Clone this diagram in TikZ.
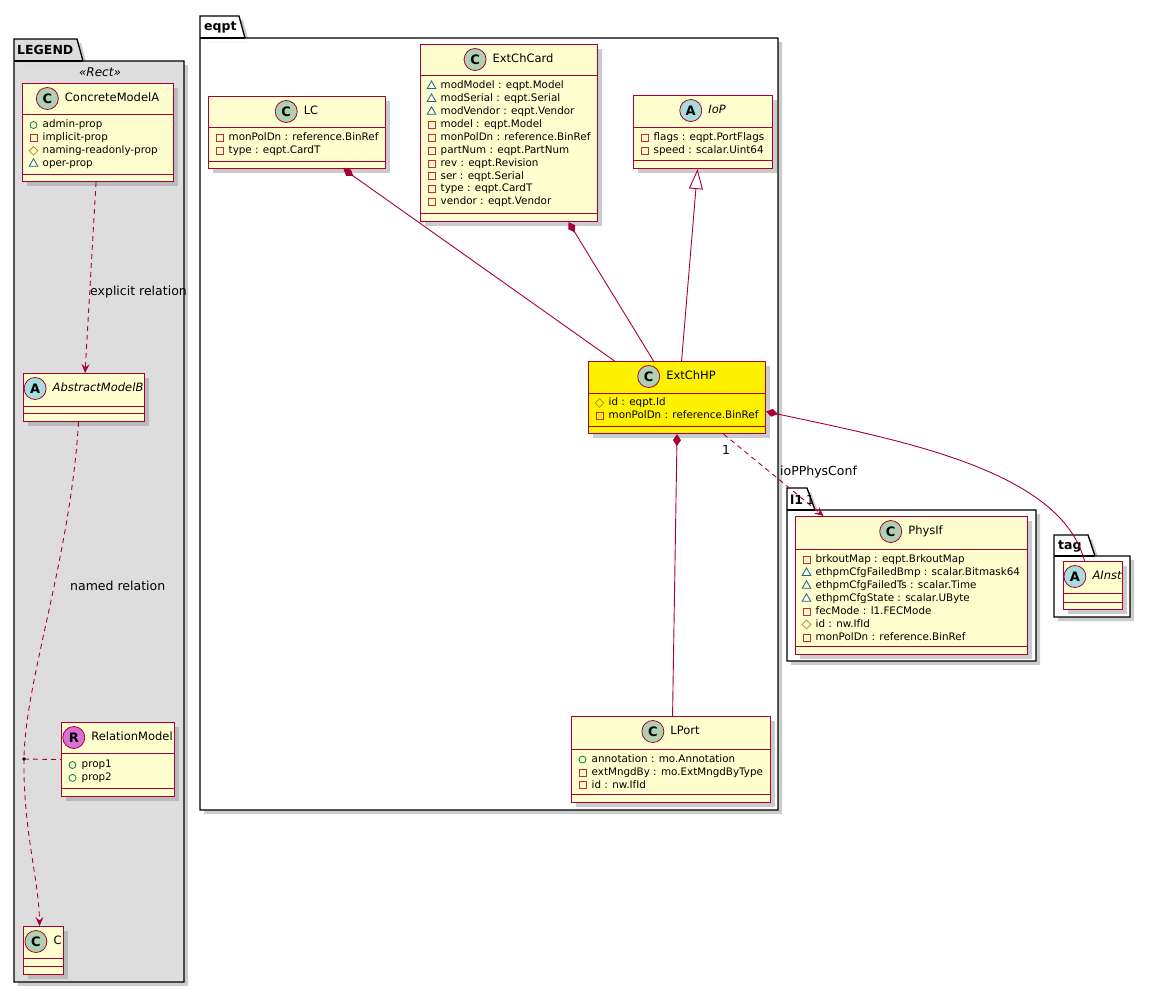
\documentclass[tikz,border=0pt]{standalone}
\usepackage{fontspec}
\setmainfont{DejaVu Sans}
\usetikzlibrary{positioning,shadows,shapes.geometric,arrows.meta}

\definecolor{clsfill}{HTML}{FEFECE}
\definecolor{clsline}{HTML}{A80036}
\definecolor{spotC}{HTML}{ADD1B2}
\definecolor{spotA}{HTML}{A9DCDF}
\definecolor{spotR}{HTML}{DA70D6}
\definecolor{legendbg}{HTML}{DDDDDD}
\definecolor{vpub}{HTML}{038048}
\definecolor{vpriv}{HTML}{C82930}
\definecolor{vprot}{HTML}{B38D22}
\definecolor{vpack}{HTML}{1963A0}

\tikzset{
	shade/.style={drop shadow={shadow xshift=4pt,shadow yshift=-4pt,fill=black!40,opacity=.5}},
	cls/.style={draw=clsline,line width=1.1pt,rectangle,inner sep=0pt,shade},
	sepline/.style={draw=clsline,line width=1pt},
	clsname/.style={inner sep=0pt,text height=8.5pt,text depth=2.5pt,font=\fontsize{11.5}{13}\selectfont},
	spot/.style={circle,draw=clsline,line width=.8pt,minimum size=22pt,inner sep=0pt,font=\fontsize{13}{13}\selectfont\bfseries},
	attr/.style={inner sep=0pt,anchor=west,text height=7.8pt,text depth=2.3pt,font=\fontsize{10.35}{12}\selectfont},
	pub/.style={circle,draw=vpub,line width=.8pt,minimum size=7pt,inner sep=0pt},
	priv/.style={rectangle,draw=vpriv,line width=.8pt,minimum size=7pt,inner sep=0pt},
	prot/.style={diamond,draw=vprot,line width=.8pt,minimum size=9pt,inner sep=0pt},
	pack/.style={regular polygon,regular polygon sides=3,draw=vpack,line width=.8pt,minimum size=10pt,inner sep=0pt},
	pkg/.style={draw=black,line width=1.3pt,shade},
	pkgname/.style={inner sep=0pt,anchor=west,font=\fontsize{12.5}{13}\selectfont\bfseries},
	lbl/.style={inner sep=0pt,font=\fontsize{12.5}{14}\selectfont},
	rel/.style={draw=clsline,line width=.9pt},
	dep/.style={rel,dash pattern=on 5pt off 4pt},
	tipd/.style={{Diamond[length=12pt,width=8pt]}-},
	tipv/.style={-{Stealth[length=9pt,width=8pt,inset=3.5pt]}}
}

% box: name, left, top, right, header line, attribute line, bottom, fill
\newcommand\umlclass[8]{%
	\node[cls,fill=#8,anchor=north west,minimum width={(#4-#2)*1pt},minimum height={(#7-#3)*1pt}] (#1) at (#2,#3) {};
	\draw[sepline] (#2,#5) -- (#4,#5) (#2,#6) -- (#4,#6);
}
% header: name, letter, spot colour, text
\newcommand\umlhead[4]{%
	\node[clsname] (#1-n) at ([xshift=14pt,yshift=-15.5pt]#1.north) {#4};
	\node[spot,fill=#3,left=6pt of #1-n] (#1-s) {#2};
}
% attributes: name, left, first line, list of visibility/text
\newcommand\umlattrs[4]{%
	\foreach \v/\t [count=\i] in {#4}{
		\node[\v] (#1-v\i) at ({#2+11.5},{#3+(\i-1)*12.9}) {};
		\node[attr] (#1-a\i) at ({#2+20.5},{#3+(\i-1)*12.9}) {\t};
	}
}

\begin{document}
\begin{tikzpicture}[x=1pt,y=-1pt]
	\useasboundingbox (0,0) rectangle (1151,993);
	% packages
	\draw[pkg,fill=legendbg](14,61)--(14,39)--(77,39)--(83,61)--(184,61)--(184,982)--(14,982)--cycle;
	\draw[pkg](14,61)--(83,61);
	\node[pkgname] (legend-l) at (17,50) {LEGEND};
	\node[lbl,font=\fontsize{12}{14}\selectfont\itshape] (legend-st) at (100,72) {«Rect»};
	\draw[pkg,fill=white](200,38)--(200,16)--(239,16)--(245,38)--(778,38)--(778,810)--(200,810)--cycle;
	\draw[pkg](200,38)--(245,38);
	\node[pkgname] (eqpt-l) at (204,27) {eqpt};
	\draw[pkg,fill=white](787,510)--(787,488)--(807,488)--(815,510)--(1036,510)--(1036,661)--(787,661)--cycle;
	\draw[pkg](787,510)--(815,510);
	\node[pkgname] (l1-l) at (790,500) {l1};
	\draw[pkg,fill=white](1054,556)--(1054,535)--(1088,535)--(1095,556)--(1130,556)--(1130,617)--(1054,617)--cycle;
	\draw[pkg](1054,556)--(1095,556);
	\node[pkgname] (tag-l) at (1058,546) {tag};
	% legend
	\umlclass{cmA}{22}{83}{173}{114}{174}{181}{clsfill}
	\umlhead{cmA}{C}{spotC}{ConcreteModelA}
	\umlattrs{cmA}{22}{125}{pub/admin-prop,priv/implicit-prop,prot/naming-readonly-prop,pack/oper-prop}
	\umlclass{amB}{23}{373}{144}{406}{413}{421}{clsfill}
	\umlhead{amB}{A}{spotA}{\itshape AbstractModelB}
	\umlclass{relM}{61}{722}{174}{753}{788}{796}{clsfill}
	\umlhead{relM}{R}{spotR}{RelationModel}
	\umlattrs{relM}{61}{765}{pub/prop1,pub/prop2}
	\umlclass{cC}{23}{926}{63}{958}{966}{974}{clsfill}
	\umlhead{cC}{C}{spotC}{C}
	% eqpt
	\umlclass{LC}{208}{96}{385}{127}{161}{168}{clsfill}
	\umlhead{LC}{C}{spotC}{LC}
	\umlattrs{LC}{208}{138}{priv/monPolDn : reference.BinRef,priv/type : eqpt.CardT}
	\umlclass{ExtChCard}{420}{44}{597}{75}{213}{221}{clsfill}
	\umlhead{ExtChCard}{C}{spotC}{ExtChCard}
	\umlattrs{ExtChCard}{420}{86}{pack/modModel : eqpt.Model,pack/modSerial : eqpt.Serial,pack/modVendor : eqpt.Vendor,priv/model : eqpt.Model,priv/monPolDn : reference.BinRef,priv/partNum : eqpt.PartNum,priv/rev : eqpt.Revision,priv/ser : eqpt.Serial,priv/type : eqpt.CardT,priv/vendor : eqpt.Vendor}
	\umlclass{IoP}{633}{95}{772}{127}{160}{168}{clsfill}
	\umlhead{IoP}{A}{spotA}{\itshape IoP}
	\umlattrs{IoP}{633}{138}{priv/flags : eqpt.PortFlags,priv/speed : scalar.Uint64}
	\umlclass{ExtChHP}{588}{361}{765}{393}{426}{433}{yellow}
	\umlhead{ExtChHP}{C}{spotC}{ExtChHP}
	\umlattrs{ExtChHP}{588}{403}{prot/id : eqpt.Id,priv/monPolDn : reference.BinRef}
	\umlclass{LPort}{571}{716}{770}{749}{794}{802}{clsfill}
	\umlhead{LPort}{C}{spotC}{LPort}
	\umlattrs{LPort}{571}{759.5}{pub/annotation : mo.Annotation,priv/extMngdBy : mo.ExtMngdByType,priv/id : nw.IfId}
	% l1, tag
	\umlclass{PhysIf}{795}{516}{1027}{549}{646}{654}{clsfill}
	\umlhead{PhysIf}{C}{spotC}{PhysIf}
	\umlattrs{PhysIf}{795}{560}{priv/brkoutMap : eqpt.BrkoutMap,pack/ethpmCfgFailedBmp : scalar.Bitmask64,pack/ethpmCfgFailedTs : scalar.Time,pack/ethpmCfgState : scalar.UByte,priv/fecMode : l1.FECMode,prot/id : nw.IfId,priv/monPolDn : reference.BinRef}
	\umlclass{AInst}{1063}{561}{1122}{593}{602}{609}{clsfill}
	\umlhead{AInst}{A}{spotA}{\itshape AInst}
	% legend relations
	\draw[dep,tipv]([xshift=-2pt]cmA.south)--([xshift=1pt]amB.north);
	\node[lbl,anchor=west] (expl-l) at (90,292) {explicit relation};
	\coordinate (rdot) at (24,759);
	\draw[dep,tipv]([xshift=-5.5pt]amB.south) .. controls (70,560) and (25,680) .. (rdot) .. controls (23,830) and (39,880) .. ([xshift=-4pt]cC.north);
	\draw[dep](rdot)--(relM.west);
	\fill(rdot)circle(1.8);
	\node[lbl,anchor=west] (named-l) at (70,586) {named relation};
	% eqpt relations
	\draw[rel,tipd]([xshift=46.5pt]LC.south)--([xshift=-62.5pt]ExtChHP.north);
	\draw[rel,tipd]([xshift=59.5pt]ExtChCard.south)--([xshift=-23.5pt]ExtChHP.north);
	\draw[rel,{Triangle[fill=white,length=20pt,width=14pt]}-]([xshift=-5.5pt]IoP.south)--([xshift=4.5pt]ExtChHP.north);
	\draw[rel,tipd](ExtChHP.south)--([xshift=1.5pt]LPort.north);
	\draw[rel,tipd]([yshift=-14pt]ExtChHP.east) .. controls +(135,29) and +(-24,-91) .. ([xshift=-8.5pt]AInst.north);
	\draw[dep,tipv]([xshift=46.5pt]ExtChHP.south)--([xshift=-88pt]PhysIf.north);
	\node[lbl] (m1-l) at (726,450) {1};
	\node[lbl,anchor=west] (conf-l) at (780,472) {ioPPhysConf};
	\node[lbl] (m2-l) at (810,500) {1};
\end{tikzpicture}
\end{document}
